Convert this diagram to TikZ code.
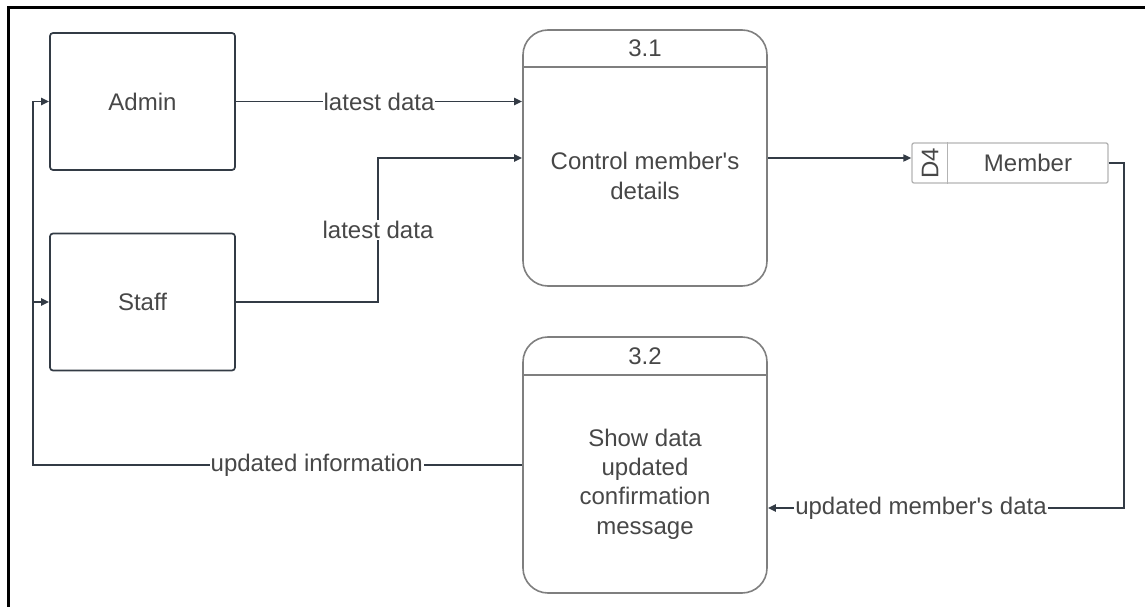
\documentclass[tikz,border=0pt]{standalone}
\usepackage{fontspec}
\setmainfont{Liberation Sans}
\usetikzlibrary{arrows.meta}
\definecolor{lc}{HTML}{333B45}
\definecolor{pc}{HTML}{7F7F7F}
\definecolor{sc}{HTML}{B3B3B3}
\definecolor{tc}{HTML}{474747}
\begin{document}
\begin{tikzpicture}[x=1bp,y=-1bp,
 every node/.style={font=\fontsize{24bp}{29.3bp}\selectfont, text=tc},
 entity/.style={draw=lc, line width=1.7bp, rounded corners=3bp, minimum width=185bp, minimum height=137bp, inner sep=0},
 proc/.style={draw=pc, line width=1.6bp, rounded corners=25bp, minimum width=244bp, minimum height=256bp, inner sep=0},
 flow/.style={draw=lc, line width=1.9bp, -{Triangle[length=8bp,width=7bp]}},
 flowline/.style={draw=lc, line width=1.9bp},
 lbl/.style={fill=white, inner sep=1bp},
]
\useasboundingbox (0,0) rectangle (1145,607);
\draw[line width=3bp] (8,607) -- (8,8) -- (1145,8);

% entities
\node[entity] (admin) at (142.5,101.5) {Admin};
\node[entity] (staff) at (142.5,302) {Staff};

% process 3.1
\node[proc] (p1) at (645,158) {};
\draw[pc, line width=1.6bp] (p1.west |- 0,67) -- (p1.east |- 0,67);
\node (p1h) at (645,48) {3.1};
\node[align=center] (p1b) at (645,176) {Control member\textquotesingle s\\details};

% process 3.2
\node[proc] (p2) at (645,465) {};
\draw[pc, line width=1.6bp] (p2.west |- 0,375) -- (p2.east |- 0,375);
\node (p2h) at (645,356) {3.2};
\node[align=center] (p2b) at (645,484) {Show data\\updated\\confirmation\\message};

% data store
\node[draw=sc, line width=1.3bp, rounded corners=2bp, minimum width=196bp, minimum height=40bp, inner sep=0] (st) at (1010,163) {};
\draw[sc, line width=1.3bp] ([xshift=36bp]st.north west) -- ([xshift=36bp]st.south west);
\node[rotate=90] (d4) at (930,163) {D4};
\node (mem) at (1028,163) {Member};

% coordinates
\coordinate (sb) at (378,302);
\coordinate (st1) at (378,158);
\coordinate (m1) at (1124,163);
\coordinate (m2) at (1124,508);
\coordinate (b1) at (33,465);
\coordinate (b0) at (33,101.5);

% flows
\draw[flow] (admin.east) -- node[lbl] {latest data} (admin.east -| p1.west);
\draw[flow] (staff.east) -- (sb) -- node[lbl] {latest data} (st1) -- (st1 -| p1.west);
\draw[flow] (p1.east |- st1) -- (st.west |- st1);
\draw[flow] (st.east) -- (m1) -- (m2) -- node[lbl, pos=0.57] {updated member\textquotesingle s data} (m2 -| p2.east);
\draw[flowline] (p2.west |- b1) -- node[lbl, pos=0.42] {updated information} (b1) -- (b0);
\draw[flow] (b0) -- (admin.west);
\draw[flow] (b0 |- staff.west) -- (staff.west);
\end{tikzpicture}
\end{document}
